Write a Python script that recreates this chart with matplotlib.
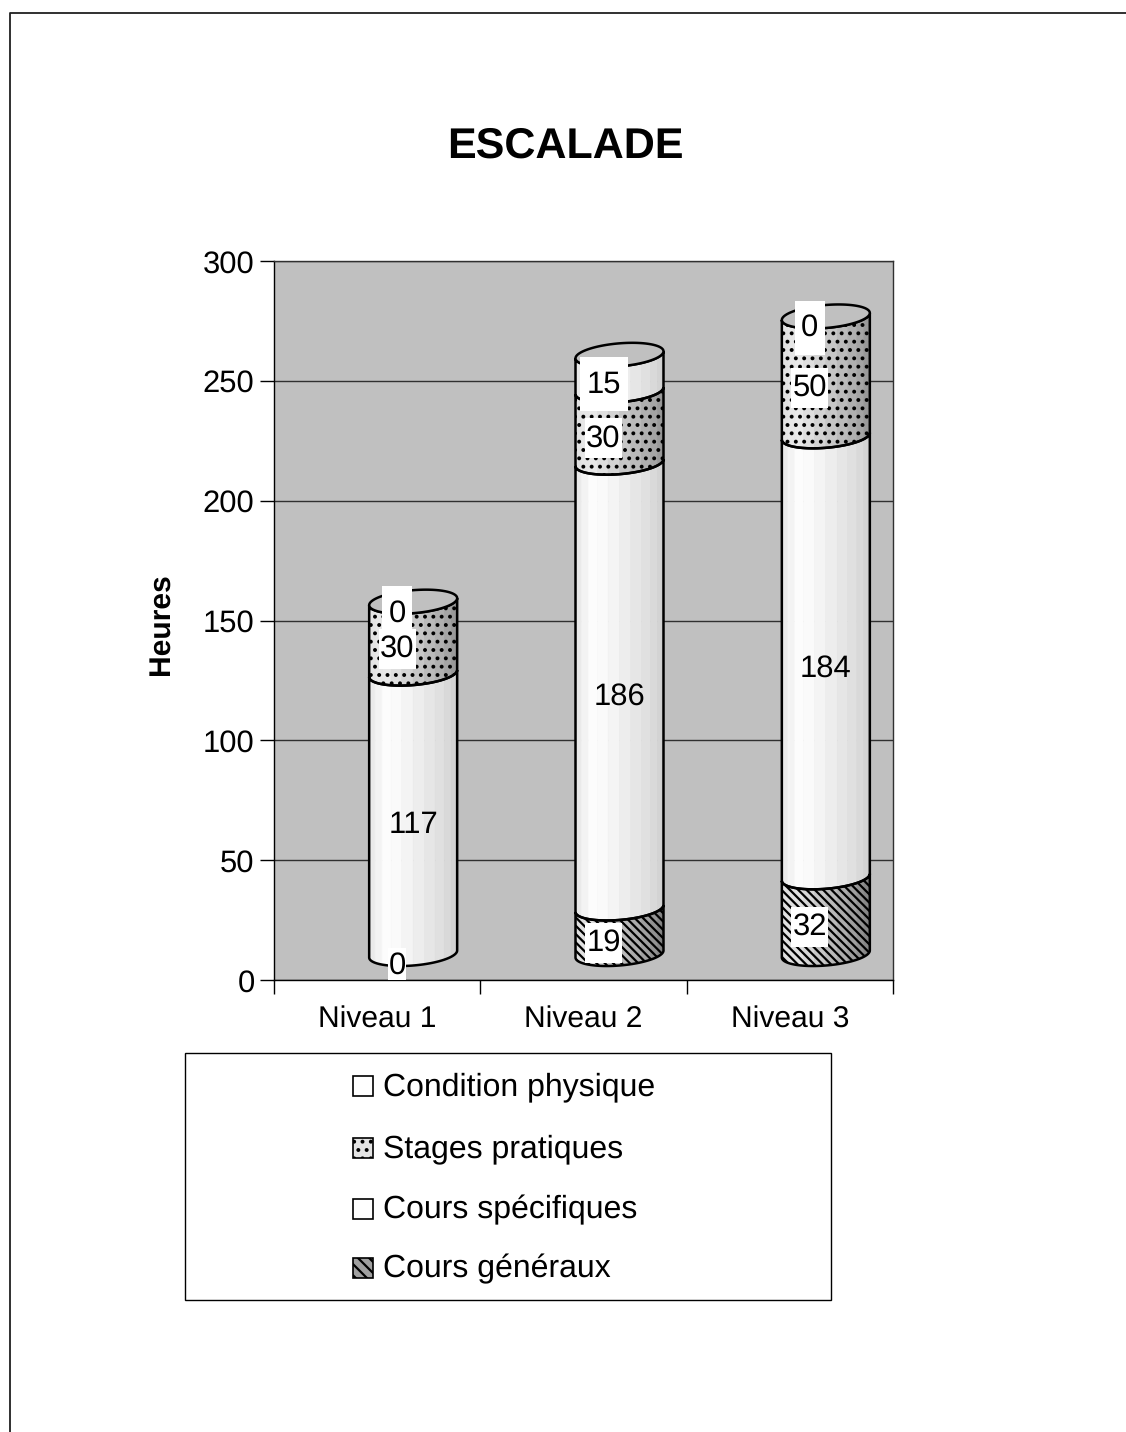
import numpy as np
import matplotlib
matplotlib.use('Agg')
from matplotlib import pyplot as plt
from matplotlib.patches import Polygon, Rectangle

categories = ['Niveau 1', 'Niveau 2', 'Niveau 3']
cours_generaux = [0, 19, 32]
cours_specifiques = [117, 186, 184]
stages_pratiques = [30, 30, 50]
condition_physique = [0, 15, 0]
legend_labels = ['Condition physique', 'Stages pratiques', 'Cours spécifiques', 'Cours généraux']
yticks = [0, 50, 100, 150, 200, 250, 300]

W, H = 1126, 1432
plt.rcParams['font.family'] = ['Liberation Sans', 'DejaVu Sans']
plt.rcParams['hatch.linewidth'] = 1.6
plt.rcParams['text.hinting'] = 'none'
plt.rcParams['text.hinting_factor'] = 1

fig = plt.figure(figsize=(W / 100, H / 100), dpi=100)
# overlay in pixel coords for page frame and legend
page = fig.add_axes([0, 0, 1, 1])
page.set_xlim(0, W)
page.set_ylim(H, 0)
page.axis('off')
page.plot([9.5, 9.5, W], [H, 12.5, 12.5], color='#202020', lw=1.3)

L, R, T, B = 274, 893, 261, 980
ax = fig.add_axes([L / W, 1 - B / H, (R - L) / W, (B - T) / H])
ax.set_facecolor('#c0c0c0')
ax.set_xlim(0, 3)
ax.set_ylim(0, 300)
ax.set_yticks(yticks)
ax.set_xticks([0, 1, 2, 3])
ax.set_xticklabels([])
ax.tick_params(axis='y', length=10, width=1, labelsize=22, pad=4)
ax.tick_params(axis='x', length=10, width=1)
ax.grid(axis='y', color='#303030', lw=1)
ax.set_axisbelow(True)
for s in ax.spines.values():
    s.set_linewidth(1)
    s.set_color('#303030')
ax.spines['left'].set_color('black')
ax.spines['bottom'].set_color('black')

px_x = 3 / (R - L)
px_y = 300 / (B - T)
half_w = 44 * px_x      # cylinder half width
b = 11.5 * px_y         # ellipse minor radius
tilt = 3.5 * px_y       # right side sits higher
dx = 36 * px_x          # 3d shift of the cylinders
base = 26 * px_y        # 3d lift of the floor


def edge(cx, y, t):
    return cx + half_w * np.cos(t), y + b * np.sin(t) + tilt * np.cos(t)


def shade(u, k):
    # u goes 0 (left) to 1 (right), k darkens the patterned segments
    if u < 0.3:
        g = 0.88 + 0.12 * u / 0.3
    else:
        g = 1.0 - 0.2 * (u - 0.3) / 0.7
    return g * (1 - k * u)


def cylinder(cx, y0, y1, hatch, k):
    # strips of grey along the visible front
    n = 12
    ts = np.linspace(np.pi, 2 * np.pi, n + 1)
    for i in range(n):
        t = np.linspace(ts[i], ts[i + 1], 6)
        x0, yb = edge(cx, y0, t)
        x1, yt = edge(cx, y1, t)
        pts = np.r_[np.c_[x0, yb], np.c_[x1[::-1], yt[::-1]]]
        g = shade(i / (n - 1), k)
        ax.add_patch(Polygon(pts, facecolor=(g, g, g), edgecolor=(g, g, g), lw=0.5, zorder=3))
    t = np.linspace(np.pi, 2 * np.pi, 60)
    x0, yb = edge(cx, y0, t)
    x1, yt = edge(cx, y1, t)
    pts = np.r_[np.c_[x0, yb], np.c_[x1[::-1], yt[::-1]]]
    if hatch:
        ax.add_patch(Polygon(pts, facecolor='none', edgecolor='black', lw=0, hatch=hatch, zorder=3.5))
    ax.add_patch(Polygon(pts, facecolor='none', edgecolor='black', lw=1.8, zorder=4))


def box_size(v, s):
    # white box behind a value label, in pixels; the big labels have none showing
    if v >= 100:
        return None
    if s == 0 and v == 0:
        return 18, 36
    if s == 3:
        return (48 if v else 30), 54
    return 37, 40


series = [cours_generaux, cours_specifiques, stages_pratiques, condition_physique]
hatches = ['\\\\\\\\', None, '..', None]
darken = [0.4, 0, 0.3, 0]

for i in range(3):
    cx = i + 0.5 + dx
    bottom = base
    for vals, h, k in zip(series, hatches, darken):
        v = vals[i]
        if v > 0:
            cylinder(cx, bottom, bottom + v, h, k)
        bottom += v
    # top cap
    t = np.linspace(0, 2 * np.pi, 120)
    x, y = edge(cx, bottom, t)
    ax.add_patch(Polygon(np.c_[x, y], facecolor='#c0c0c0', edgecolor='black', lw=1.8, zorder=5))
    # value labels on the front of each segment
    bottom = base
    for s, vals in enumerate(series):
        v = vals[i]
        lx = i + 0.5 + 20 * px_x
        if v >= 100:
            lx = cx
        ly = bottom - b + v / 2
        size = box_size(v, s)
        if size:
            bw, bh = size[0] * px_x, size[1] * px_y
            ax.add_patch(Rectangle((lx - bw / 2, ly - bh / 2), bw, bh, facecolor='white',
                                   edgecolor='none', zorder=6))
        ax.text(lx, ly, str(v), ha='center', va='center', fontsize=22, zorder=7)
        bottom += v

for i, c in enumerate(categories):
    ax.text(i + 0.5, -40 * px_y, c, ha='center', va='center', fontsize=21.5)

page.text(161, 624, 'Heures', rotation=90, ha='center', va='center', fontsize=21.5, fontweight='bold')
page.text(565, 146, 'ESCALADE', ha='center', va='center', fontsize=31, fontweight='bold')

# legend box
page.add_patch(Rectangle((185, 1053), 646, 247, facecolor='white', edgecolor='black', lw=1, zorder=7))
leg_y = [1086, 1148, 1209, 1268]
leg_h = [None, '..', None, '\\\\\\']
leg_c = ['white', '#e4e4e4', 'white', '#a0a0a0']
for lab, yy, h, c in zip(legend_labels, leg_y, leg_h, leg_c):
    page.add_patch(Rectangle((353, yy - 10), 20, 20, facecolor=c, edgecolor='black', lw=1.2,
                             hatch=h, zorder=8))
    page.text(383, yy + 1, lab, ha='left', va='center', fontsize=23, zorder=8)

fig.savefig('out.png', dpi=100)
